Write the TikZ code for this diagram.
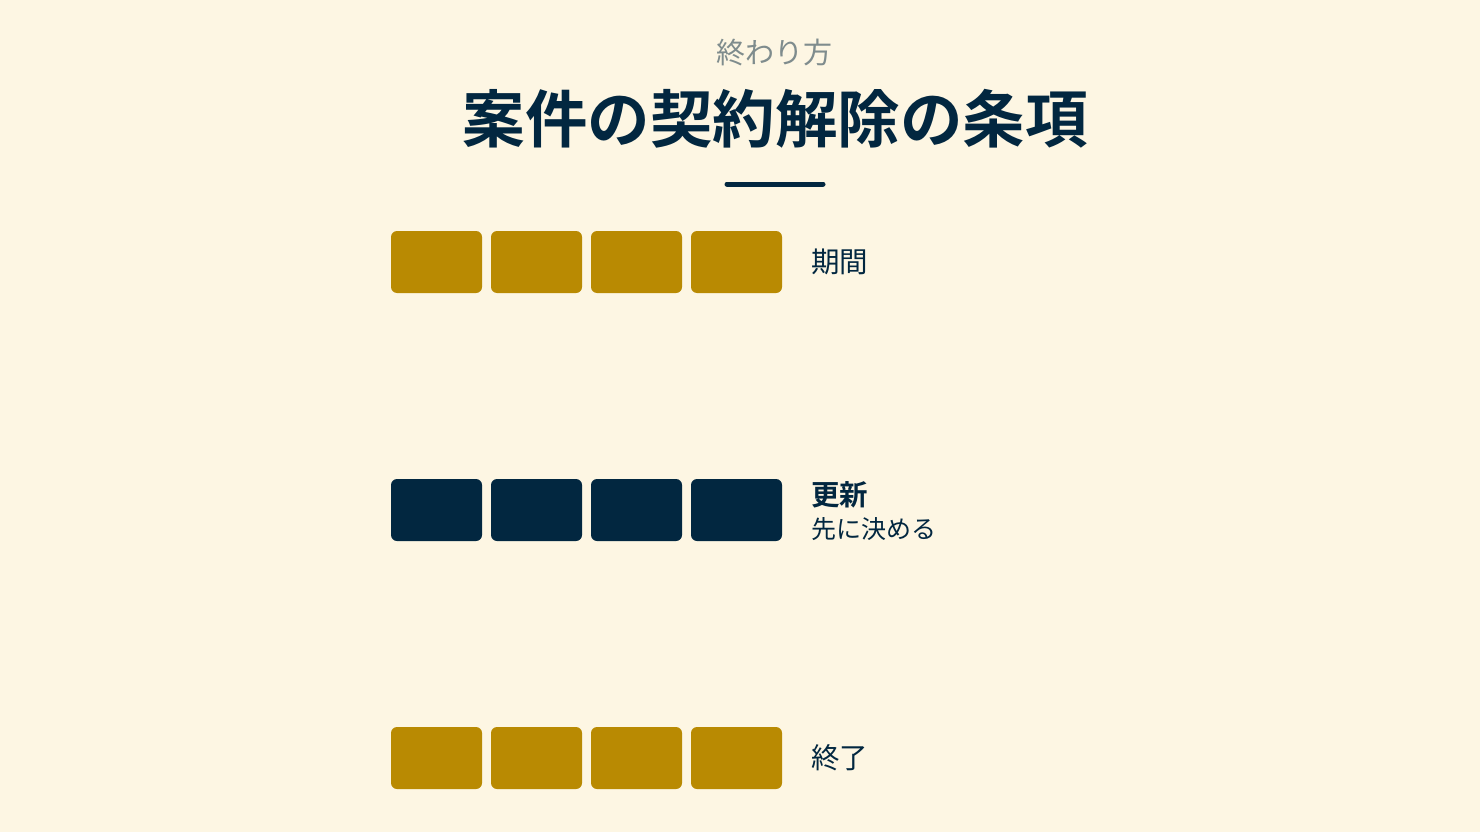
\documentclass[tikz,border=0pt]{standalone}
\usepackage{fontspec}
\setmainfont{Noto Sans CJK JP}[BoldFont={Noto Sans CJK JP Bold}]
\usetikzlibrary{positioning}
\definecolor{cream}{HTML}{FDF6E3}
\definecolor{navy}{HTML}{022740}
\definecolor{gold}{HTML}{B98A02}
\definecolor{slate}{HTML}{7F8C8D}
\tikzset{
cell/.style={rounded corners=6pt, minimum width=91pt, minimum height=62pt, inner sep=0pt}, % one block of a row
tag/.style={anchor=west, inner sep=0pt, text=navy, font=\fontsize{28.5}{32}\selectfont}, % text right of a row
}

\begin{document}
\begin{tikzpicture}[x=1pt, y=-1pt]
    \fill[cream] (0,0) rectangle (1480,832);
    \useasboundingbox (0,0) rectangle (1480,832);

    \node[text=slate, font=\fontsize{29}{32}\selectfont] (sub) at (774,53) {終わり方};
    \node[text=navy, font=\fontsize{62.5}{70}\selectfont\bfseries] (title) at (775,119) {案件の契約解除の条項};
    \draw[navy, line width=5pt, line cap=round] (727,184) -- (823,184);

    % rows of blocks
    \foreach \r/\y/\c in {1/262/gold, 2/510/navy, 3/758/gold}
        \foreach \k in {1,...,4}
            \node[cell, fill=\c] (b\r\k) at (336.5+100*\k,\y) {};

    \node[tag, right=29pt of b14] (period) {期間};
    \node[tag, font=\fontsize{28.5}{32}\selectfont\bfseries] at ([xshift=29pt, yshift=15pt]b24.east) (renew) {更新};
    \node[tag, font=\fontsize{25}{30}\selectfont] at ([xshift=29pt, yshift=-19pt]b24.east) (renewnote) {先に決める};
    \node[tag, right=29pt of b34] (finish) {終了};
\end{tikzpicture}
\end{document}
